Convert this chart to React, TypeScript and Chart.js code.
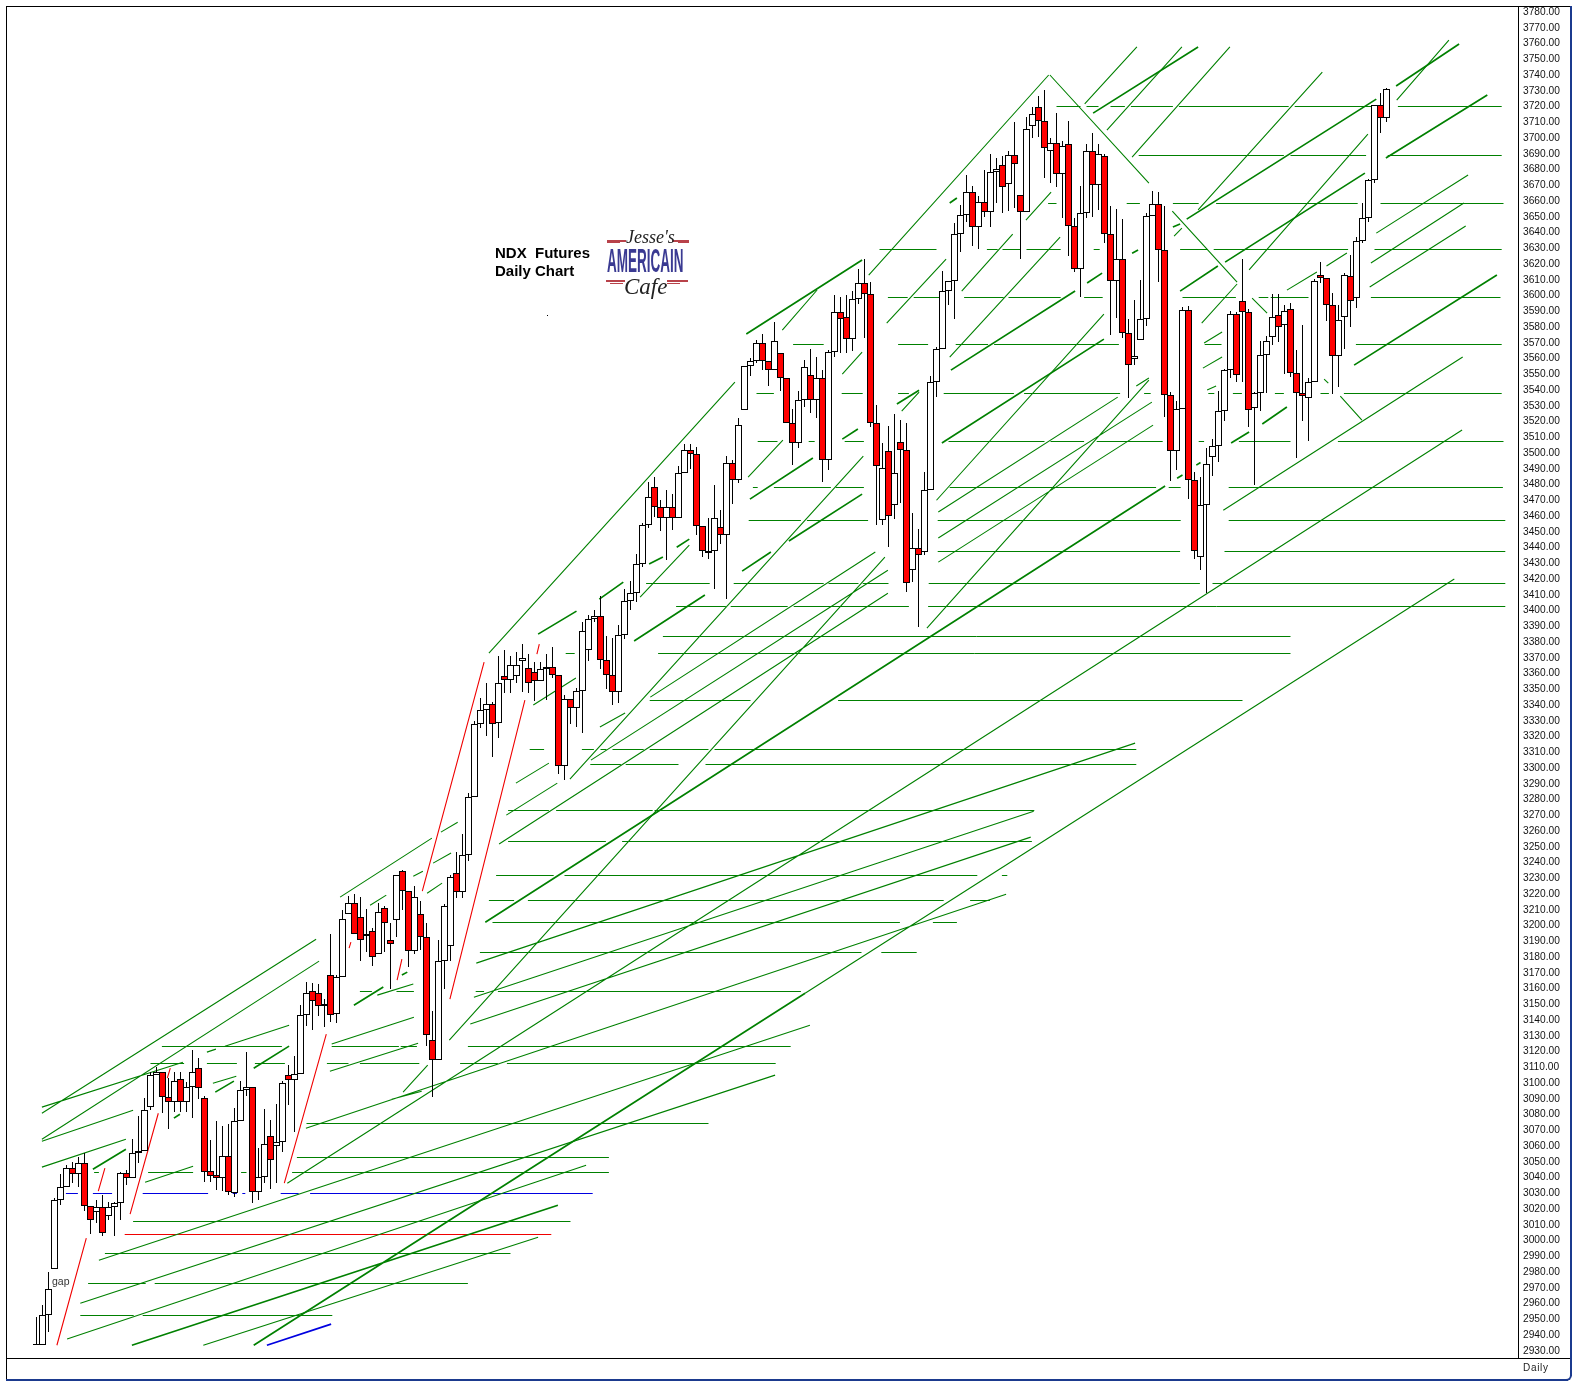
import React, { useEffect, useRef } from "react";
import { Chart, registerables } from "chart.js";

Chart.register(...registerables);

const opens = [
  2933.5, 2933.5, 2952.6, 2981.8, 3025.6, 3033.8, 3045.9, 3042.1, 3049.1, 3021.8,
  3018, 3021.2, 3015.4, 3021.2, 3023.7, 3042.7, 3039.6, 3055.5, 3056.7, 3084.7,
  3105, 3106.9, 3091, 3087.8, 3102.4, 3087.8, 3097.4, 3109.4, 3090.4, 3044,
  3041.5, 3039.6, 3053.5, 3030, 3075.7, 3095.4, 3097.4, 3030.7, 3040.2, 3066.2,
  3059.9, 3062.4, 3105, 3101.8, 3105.6, 3143, 3158.3, 3157, 3148.8, 3168.5,
  3143.7, 3167.2, 3207, 3214, 3205.7, 3193.2, 3196.2, 3181.6, 3210.8, 3191.1,
  3203.2, 3234.3, 3221.6, 3184.1, 3207.6, 3192.4, 3127, 3114.9, 3177.2, 3187.3,
  3233.1, 3221, 3244.5, 3281.9, 3327.7, 3336.6, 3340.4, 3328.3, 3358.2, 3355.6,
  3358.2, 3367.7, 3363.2, 3360.7, 3355, 3362.6, 3363.9, 3358.8, 3301, 3343.5,
  3337.8, 3348.8, 3374.9, 3394.5, 3396.4, 3368.5, 3359, 3348.2, 3384.4, 3406,
  3411, 3429.5, 3454.2, 3478.2, 3465.5, 3458.5, 3465.5, 3458.5, 3487, 3501.6,
  3499.1, 3453.4, 3436.6, 3437.5, 3452.8, 3447.7, 3493.4, 3482.6, 3527.1, 3555,
  3558.2, 3569.6, 3558.2, 3552.4, 3563.2, 3547.4, 3518.8, 3506.1, 3533.4, 3549.3,
  3533.4, 3547.4, 3495.3, 3563.9, 3589.3, 3586.1, 3572.3, 3597.7, 3607.9, 3600.9,
  3519, 3457.2, 3501, 3466.7, 3506.7, 3501.6, 3426, 3439.4, 3436.9, 3476.3,
  3544.8, 3566, 3602.8, 3609.2, 3639, 3650.9, 3665.5, 3643.3, 3659.1, 3652.8,
  3678.2, 3682.6, 3670.6, 3689, 3663.6, 3652.8, 3707.4, 3719.5, 3710.6, 3691.5,
  3696.6, 3676.9, 3696, 3643.9, 3616.6, 3652.1, 3691.5, 3669.9, 3688.3, 3638.8,
  3609, 3622.9, 3576, 3559.4, 3571.5, 3584.8, 3650.2, 3657.9, 3628.6, 3536.6,
  3501, 3527.7, 3590.6, 3482.6, 3433.7, 3466.7, 3497.2, 3504.2, 3526.4, 3552.4,
  3588, 3596.3, 3589.3, 3528.3, 3537.8, 3562, 3573.4, 3587.4, 3581, 3591.2,
  3550.6, 3537.8, 3534.7, 3544.8, 3612.8, 3610.9, 3593.7, 3561.3, 3586.1, 3612.2,
  3598.2, 3634.4, 3649, 3673.1, 3720.7, 3712.5,
];
const highs = [
  2951.3, 2958.9, 2979.9, 3026.9, 3042.1, 3047.8, 3049.7, 3052.9, 3055.5, 3021.8,
  3025.6, 3028.8, 3024.3, 3024.3, 3043.4, 3044.6, 3064.3, 3079, 3090.4, 3106.9,
  3110, 3106.9, 3103.1, 3106.9, 3106.9, 3100.5, 3120.9, 3115.8, 3091.6, 3063.7,
  3075.7, 3072.6, 3073.9, 3084, 3101.2, 3119.6, 3097.4, 3058.6, 3083.4, 3076.4,
  3086.6, 3101.2, 3111.3, 3117, 3149.4, 3164, 3163.4, 3162.8, 3153.2, 3194.5,
  3168.5, 3209.7, 3218.6, 3220.3, 3217.8, 3210.2, 3198.1, 3214, 3212.3, 3201.9,
  3231.8, 3235.2, 3221.6, 3225, 3215.5, 3201.7, 3145.8, 3191.1, 3213.4, 3231.8,
  3246.4, 3258, 3283.9, 3329.6, 3344.2, 3353.7, 3341.6, 3371, 3374.9, 3371,
  3373.4, 3378.7, 3372.7, 3367, 3367, 3372.3, 3376.6, 3358.8, 3346.3, 3343.5,
  3350.5, 3392.6, 3397, 3400.2, 3409.1, 3383.7, 3382.5, 3390.7, 3413.6, 3418.7,
  3435.8, 3455.5, 3481.5, 3484.5, 3470.1, 3476.5, 3473.9, 3491.7, 3505.5, 3505.5,
  3503.6, 3453.4, 3458.5, 3479.6, 3463.7, 3497.8, 3495.5, 3522.2, 3555, 3560.1,
  3571.7, 3575.5, 3558.2, 3582.9, 3563.2, 3547.4, 3527.9, 3539.1, 3558.8, 3565.8,
  3560.7, 3552.4, 3565.4, 3600.3, 3599, 3600.3, 3602.8, 3616.8, 3623.1, 3608.5,
  3530.4, 3506.1, 3517.1, 3524.5, 3520.9, 3518.8, 3461.6, 3451.5, 3487.7, 3548.8,
  3567.3, 3615.5, 3609.2, 3646, 3657.4, 3676.5, 3669.5, 3663.1, 3679.6, 3689.8,
  3687.1, 3688.5, 3691.9, 3710.1, 3663.6, 3713.1, 3719.5, 3726.6, 3730.4, 3699.8,
  3715.8, 3698, 3710.8, 3649, 3669.5, 3696.2, 3703, 3696.2, 3689.6, 3656.8,
  3654.9, 3648.3, 3585.2, 3597.1, 3609.8, 3652.1, 3666.1, 3665.7, 3656.8, 3538.9,
  3533.2, 3592.9, 3593.5, 3488.1, 3484.9, 3503.3, 3508.6, 3539.1, 3553.1, 3589.9,
  3589.7, 3623.1, 3591.2, 3539, 3570.9, 3574.2, 3600.9, 3600.9, 3593.9, 3595,
  3565.4, 3581.2, 3547.4, 3610.2, 3621, 3610.9, 3601.4, 3593.7, 3614, 3625.5,
  3637.3, 3658.5, 3674.1, 3720.7, 3728.4, 3731.5,
];
const lows = [
  2933.5, 2933.5, 2941.8, 2981.8, 3022.4, 3033.8, 3036.4, 3033.8, 3018.6, 3004,
  3011, 3002.7, 3012.9, 3002.7, 3012.9, 3035.1, 3039.6, 3049.1, 3056.7, 3082.7,
  3105, 3080.9, 3070.7, 3081.5, 3081.5, 3081.5, 3077.7, 3089.7, 3037, 3037,
  3032, 3031.3, 3028.8, 3027.5, 3075.7, 3091.6, 3023.7, 3025.6, 3036.4, 3032.6,
  3036.4, 3056.1, 3085.9, 3068.8, 3105.6, 3136.1, 3133.5, 3142.4, 3135.5, 3138.6,
  3138, 3167.2, 3207, 3194.9, 3177.6, 3183.3, 3174.4, 3181.6, 3183.3, 3159.4,
  3192.8, 3209.7, 3173.4, 3182, 3184.4, 3123.6, 3090.8, 3114.9, 3159.4, 3177.6,
  3217.2, 3217.2, 3241, 3281.9, 3325.1, 3320.4, 3307.1, 3318.8, 3347.7, 3347.7,
  3353.7, 3348.4, 3347.7, 3342.7, 3355, 3342.9, 3356.9, 3296, 3292.1, 3327.9,
  3325.8, 3322.1, 3367.9, 3392.6, 3362.8, 3350.1, 3340, 3341.2, 3381.9, 3400.2,
  3405.3, 3427.6, 3452.3, 3459.5, 3450.6, 3432, 3451, 3458.5, 3487, 3489.6,
  3447.7, 3433.7, 3433, 3413.4, 3442, 3407, 3467.4, 3481, 3527.1, 3548.8,
  3557.3, 3552.6, 3542.5, 3552.4, 3539.3, 3518.8, 3492.5, 3502.9, 3529, 3525.1,
  3522, 3481.7, 3489.2, 3561.1, 3563.2, 3563.4, 3564.7, 3594.6, 3573, 3516.5,
  3454.2, 3454.2, 3440.1, 3457.8, 3468, 3411.9, 3418.2, 3389.3, 3435, 3476.3,
  3535.7, 3566, 3593.9, 3585, 3627.8, 3646.8, 3631.6, 3629.3, 3649.6, 3643.6,
  3658.5, 3652.1, 3653.8, 3655.3, 3622.9, 3652.8, 3699.8, 3700.8, 3674.4, 3671.2,
  3668.7, 3649, 3625.2, 3615.1, 3599.2, 3649.4, 3649.6, 3654.3, 3633.1, 3574.9,
  3585.9, 3573.2, 3535.1, 3555.6, 3571.5, 3580.8, 3650.2, 3608.7, 3523, 3482,
  3489.2, 3527.7, 3470.9, 3432.4, 3425.9, 3410.9, 3485.3, 3494, 3520.5, 3547.4,
  3545.2, 3545.2, 3516.6, 3479.6, 3526.8, 3537.8, 3568.5, 3570.4, 3549.9, 3548,
  3496.6, 3520.5, 3507.8, 3544.8, 3607.7, 3584, 3537.6, 3541.6, 3565.8, 3579.8,
  3592.2, 3633.5, 3646.8, 3671.6, 3703.3, 3710.3,
];
const closes = [
  2934.2, 2952.6, 2969.1, 3025.6, 3033.8, 3045.9, 3042.1, 3049.1, 3021.8, 3012.9,
  3021.2, 3004.6, 3021.2, 3023.7, 3042.7, 3039.6, 3055.5, 3056.7, 3082.7, 3105,
  3106.9, 3091, 3087.8, 3101.2, 3087.8, 3097.4, 3106.9, 3096.7, 3043.4, 3040.8,
  3039.6, 3053.5, 3030.7, 3075.7, 3095.4, 3097.4, 3030.7, 3040.2, 3061.2, 3051,
  3062.4, 3099.9, 3101.8, 3105.6, 3143, 3157, 3152, 3148.8, 3150, 3143,
  3167.2, 3204, 3214, 3194.9, 3191.1, 3194.9, 3179.7, 3208.3, 3201.3, 3188,
  3231.8, 3221.6, 3184.1, 3217.8, 3192.4, 3130.2, 3114.9, 3177.2, 3212.3, 3230.5,
  3221, 3244.5, 3281.9, 3327.7, 3336.6, 3340.4, 3327.7, 3353.7, 3355.6, 3365.1,
  3365.1, 3369.6, 3353.7, 3355, 3362.6, 3363.9, 3358.8, 3301, 3343.5, 3337.8,
  3348.6, 3386.9, 3394.5, 3396.4, 3368.5, 3359, 3348.2, 3384.4, 3406, 3411,
  3429.5, 3454.2, 3472, 3465.5, 3458.5, 3465.5, 3458.5, 3487, 3501.6, 3499.1,
  3453.4, 3437.5, 3437.5, 3458.5, 3447.7, 3493.4, 3482.6, 3517.5, 3555, 3558.2,
  3569.6, 3558.2, 3552.4, 3570.9, 3547.4, 3518.8, 3506.1, 3533.4, 3554.4, 3533.4,
  3547.4, 3495.3, 3563.9, 3589.3, 3584.8, 3572.1, 3597.7, 3607.9, 3600.9, 3519,
  3491.5, 3490.2, 3459.8, 3487, 3501.6, 3417.2, 3439.4, 3435, 3476.3, 3544.8,
  3565.8, 3602.8, 3609.2, 3639, 3650.9, 3665.5, 3643.3, 3659.1, 3652.8, 3678.2,
  3680.1, 3668.7, 3689, 3683.3, 3652.8, 3705.5, 3715, 3710.6, 3693.4, 3696.6,
  3676.9, 3694.7, 3643.9, 3616.6, 3652.1, 3691.5, 3669.9, 3689.6, 3638.8, 3609,
  3622.9, 3576, 3555.6, 3561.3, 3584.8, 3650.2, 3657.9, 3628.6, 3536.6, 3501,
  3527.7, 3590.6, 3482.6, 3437.5, 3466.7, 3492.8, 3504.2, 3526.4, 3552.4, 3588,
  3549.3, 3589.3, 3527.1, 3537.8, 3562, 3570.9, 3586.1, 3579.8, 3589.9, 3550.6,
  3537.8, 3536, 3544.8, 3609, 3610.9, 3593.7, 3561.3, 3584.2, 3612.8, 3596.3,
  3634.4, 3649, 3673.1, 3720.7, 3712.5, 3730.9,
];

// [price, from bar, to bar, from bar, to bar, ...]
const greenLevels: number[][] = [
  [3719.7, 170, 174, 175, 177, 179, 181.4, 182.4, 189.4, 190.4, 208.7, 209.7, 222.7, 226.9, 244.2],
  [3689, 183.7, 207.9, 209, 221.6, 225.2, 244.2],
  [3658.7, 168.6, 170, 181.7, 183.9, 189.4, 193.7, 196.6, 220.2, 224, 244.5],
  [3629, 140.5, 150, 158.4, 160.2, 161, 164, 165, 170.7, 176.2, 177.2, 190.6, 195.2, 196.2, 218.6, 223, 244.2],
  [3599, 141.9, 145.2, 146.2, 151, 154.6, 161.2, 162, 170.7, 174.6, 177.7, 191, 199.9, 203.7, 205.3, 205.7, 212, 222.4, 244],
  [3569, 126.1, 131.2, 143.6, 148.6, 153.2, 158.6, 159.6, 180.4, 194.7, 197.5, 219.9, 244.2],
  [3538, 120, 122.9, 134.2, 137.7, 143.6, 145.4, 151.2, 162.9, 164.6, 180.6, 184.6, 185.7, 195.3, 196.3, 199.4, 200.9, 206.4, 207.9, 214, 215.4, 217.9, 244.2],
  [3507, 120.2, 123.5, 128.7, 129.7, 134.7, 137.9, 152, 168, 169, 174.6, 176.7, 187.7, 193.7, 194.6, 200.4, 209, 216.9, 244.5],
  [3478, 119.4, 120.2, 122.9, 132.4, 133.2, 137.9, 152.2, 186.6, 188.7, 190.7, 198.7, 244.4],
  [3457.4, 118.7, 127.4, 128.4, 138.6, 150.2, 190.7, 198.7, 244.8],
  [3437.7, 150.2, 190.6, 198, 244.8],
  [3417.4, 101.6, 112.2, 116.2, 131.2, 132, 137, 137.7, 142, 148.7, 193.9, 196, 244.8],
  [3402.8, 106.6, 114.9, 115.7, 125.2, 126.2, 145.4, 148.6, 244.8],
  [3383.7, 104.4, 209],
  [3373, 88.2, 89.7, 103.6, 209],
  [3343, 102.2, 119, 133.6, 201],
  [3312, 82.2, 84.6, 90.9, 92.9, 94, 95, 96, 101.2, 102.2, 112, 113, 183.3],
  [3302.5, 92.3, 97.4, 98.2, 107, 111.5, 183.3],
  [3273, 78.6, 85.4, 86.6, 102.7, 103, 166.3],
  [3253.5, 78.6, 94.9, 97.6, 165.9],
  [3232, 76.6, 86.2, 88, 156.8, 160.9, 161.8],
  [3216, 75.4, 79.6, 81.9, 151.2, 155.6, 158.9],
  [3202, 76, 143.9, 149.4, 153.4],
  [3183, 73.9, 137.5, 140.8, 146.7],
  [3158, 53.9, 55.9, 60, 62.9, 73.2, 74.6, 76.9, 127.4],
  [3123, 20.9, 40.9, 49.2, 60.4, 60.7, 63.4, 71.9, 125.7],
  [3112.5, 19, 24.6, 28.4, 33.4, 36.4, 41.4, 48.4, 52, 53.9, 63.8, 70.6, 76.9, 78.4, 123.2],
  [3074, 45, 112],
  [3053, 43.4, 95.4],
  [3043, 9.6, 10.4, 18.6, 26.1, 34.1, 35, 42.6, 95.4],
  [3012, 16.1, 89],
  [2992, 11.4, 79],
  [2973, 8.6, 18.2, 19.7, 71.9],
  [2952.5, 7.3, 16.2, 17.7, 49.3],
];
const blueLevel = [3030, 4.9, 6.9, 9.4, 12.6, 17.7, 28.6, 32.7, 33.4, 34.3, 34.8, 40.7, 43.7, 45.6, 92.7];
const redLevel = [3004, 14.7, 85.8];

// [from bar, from price, to bar, to price]
const thinLines: number[][] = [
  [0.9, 3084.7, 24.4, 3113.2], [0.9, 3080.8, 46.6, 3191.3], [0.9, 3064.3, 47.1, 3177.4],
  [0.9, 3063, 16.1, 3082.7], [0.9, 3046.6, 14.9, 3064.3], [18.1, 3037, 26.1, 3047.2],
  [29.4, 3099.9, 33.3, 3104.3], [31.4, 3123.4, 42.1, 3136.7], [28.4, 3119.6, 29.9, 3121.5],
  [10.4, 2987.5, 128.9, 3136.7], [7.3, 2960.2, 123.1, 3105], [5.1, 2937.4, 91.6, 3047.8],
  [27.8, 2933.5, 83.6, 3002.1], [41.8, 3036.4, 237.6, 3514.6], [128.1, 3157, 236.3, 3420],
  [50.6, 3218, 65.9, 3255.5], [55.6, 3212.9, 58.3, 3219.3], [67.4, 3259.3, 70.2, 3265.6],
  [66.1, 3239.6, 69.1, 3246], [65.1, 3220.5, 67.6, 3226.9], [62.8, 3231.3, 64.4, 3234.5],
  [73.3, 3176.1, 183.1, 3315.8], [72.9, 3154.5, 166.2, 3272.6], [72.3, 3137.4, 165.7, 3256.1],
  [44.9, 3071.3, 161.6, 3219.9], [48.9, 3107.5, 63.6, 3125.3], [49.2, 3124.7, 62.9, 3141.8],
  [56.8, 3155.8, 62.8, 3162.8], [59.2, 3089.7, 64.2, 3094.8], [61.1, 3094.2, 65.2, 3111.3],
  [68.8, 3127.2, 141.4, 3433.9], [88.9, 3292.9, 137.8, 3498], [75.4, 3373, 116.4, 3545],
  [77.1, 3251.7, 141.9, 3411], [92.4, 3305, 141.9, 3425.6], [102.3, 3345, 139.8, 3437.1],
  [78.3, 3270.1, 86.8, 3290.4], [79.9, 3290.4, 85.4, 3303.1], [82.8, 3340, 89.9, 3357.1],
  [93.9, 3326, 98.1, 3334.9], [100.6, 3408.5, 108.8, 3441.5], [118.6, 3484.7, 124.4, 3508.2],
  [134.3, 3550.1, 137.6, 3564.1], [124.3, 3578, 130.1, 3603.5], [141.7, 3582.5, 151.6, 3623.1],
  [138.7, 3613, 168.7, 3740], [144.2, 3526.6, 147.1, 3538.7], [148.4, 3388.8, 185.4, 3546.3],
  [150, 3470, 177.9, 3588.2], [152.2, 3560.9, 170.6, 3637.1], [154.2, 3602.8, 162.7, 3639],
  [164.9, 3647.9, 169.1, 3665.7], [174.7, 3721.6, 183.4, 3757.8], [178.4, 3705, 190.9, 3757.8],
  [182.6, 3687.9, 198.9, 3757.8], [193.6, 3654.3, 214.3, 3741.9], [189.6, 3637.7, 190.9, 3642.8],
  [194.2, 3582.5, 200.1, 3607.3], [202.1, 3616.2, 221.9, 3702.5], [226.7, 3724.1, 235.4, 3762.2],
  [150.3, 3462.5, 180.2, 3535.5], [150.3, 3446, 185.9, 3532.3], [150.3, 3430.7, 186.1, 3517.7],
  [183.3, 3542.5, 185.4, 3547.6], [194.6, 3569.8, 197.6, 3576.8], [194.4, 3553.9, 197.6, 3560.9],
  [197.8, 3463.7, 237.7, 3560.9], [223.3, 3639.6, 238.6, 3676.5], [222.4, 3620.6, 237.9, 3658.7],
  [222.2, 3605.4, 238.2, 3644.1], [215, 3618.7, 218.4, 3627], [208.4, 3603.4, 213.4, 3614.9],
  [195.1, 3540, 196.6, 3542.5], [168.9, 3740, 185.4, 3671.4], [189.3, 3653.6, 200.1, 3608.5],
  [202.6, 3598.4, 205.1, 3588.8], [217.3, 3536.1, 220.9, 3520.9], [214.6, 3546.9, 215.3, 3544.4],
];
const thickLines: number[][] = [
  [15.9, 2933.5, 86.9, 3022.4], [36.2, 2933.5, 128.1, 3157], [9.4, 3045.3, 14.9, 3058],
  [36.2, 3109.4, 42.1, 3123.4], [29.8, 3094.2, 32.9, 3101.2], [52.9, 3149.4, 57.8, 3160.9],
  [83.6, 3385, 90, 3399.6], [93.8, 3407.2, 97.8, 3418], [99.6, 3380.6, 111.4, 3409.8],
  [102.1, 3429.5, 104.4, 3433.9], [106.7, 3440.2, 108.8, 3445.3], [118.3, 3575.5, 137.6, 3622.5],
  [117.6, 3425, 122.4, 3437.1], [118.9, 3470.7, 129.4, 3496.8], [125.4, 3444.1, 137.6, 3473.9],
  [134.3, 3508.8, 136.9, 3515.2], [143.4, 3531.1, 147.1, 3539.9], [150.9, 3506.3, 177.9, 3572.3],
  [152.4, 3552.6, 173.1, 3602.8], [176.1, 3715.8, 193.6, 3757.8], [191.7, 3648.5, 223.3, 3724.7],
  [190.6, 3602.8, 196.9, 3618.7], [198.1, 3621.2, 221.4, 3677.7], [175.1, 3607.9, 177.6, 3614.2],
  [224.9, 3687.3, 241.8, 3727.3], [226.6, 3733, 237.1, 3759.7], [219.6, 3555.8, 243.4, 3613],
  [204.3, 3518.4, 208.4, 3529.2], [199.1, 3506.3, 202.1, 3513.3], [74.8, 3202.1, 188.1, 3479],
  [189.4, 3643.5, 190.6, 3645.4], [182.6, 3626.9, 183.6, 3628.9], [190.1, 3484, 191, 3486],
  [193.3, 3492.3, 194, 3494], [22.9, 3077.7, 23.9, 3080.2], [60.9, 3168.5, 61.8, 3170.4],
  [152.2, 3658.7, 153.4, 3661.9],
];
const redLines: number[][] = [
  [3.4, 2933.5, 8.3, 3001.5], [10.3, 3031.3, 11.4, 3045.9], [15.6, 3016.7, 20.3, 3080.8],
  [21.8, 3103.1, 22.3, 3109.4], [41.3, 3036.4, 48.3, 3131], [64.3, 3221.8, 74.6, 3367.2],
  [68.9, 3153.2, 81.4, 3343.1], [83.4, 3372.3, 83.8, 3378.7], [52.1, 3185.6, 52.4, 3189.4],
  [60.1, 3165.3, 60.9, 3178.6],
];
const blueLines: number[][] = [[38.4, 2933.5, 49.1, 2946.9]];

const segPoints = (lines: number[][]) =>
  lines.flatMap(([a, b, c, d]) => [{ x: a, y: b }, { x: c, y: d }, { x: c, y: null }]);
const levelPoints = (levels: number[][]) =>
  levels.flatMap(([p, ...spans]) => {
    const out: { x: number; y: number | null }[] = [];
    for (let k = 0; k < spans.length; k += 2) {
      out.push({ x: spans[k], y: p }, { x: spans[k + 1], y: p }, { x: spans[k + 1], y: null });
    }
    return out;
  });

const GREEN = "#008000";

const snapPlugin = {
  id: "snap",
  afterDatasetsUpdate(chart: any) {
    chart.data.datasets.forEach((ds: any, idx: number) => {
      const meta = chart.getDatasetMeta(idx);
      if (ds.type === "bar") {
        meta.data.forEach((el: any) => {
          el.y = Math.round(el.y);
          el.base = Math.round(el.base);
          if (el.y === el.base && ds.label !== "wick") el.base += 1;
        });
      } else if (ds.label.startsWith("level")) {
        meta.data.forEach((el: any) => {
          if (Number.isFinite(el.y)) el.y = Math.floor(el.y) + 0.5;
        });
      }
    });
  },
};

function abs(left: number, top: number, width: number, height: number, background: string, extra: any = {}) {
  return { position: "absolute", left, top, width, height, background, ...extra } as React.CSSProperties;
}

export default function App() {
  const ref = useRef<HTMLCanvasElement | null>(null);
  useEffect(() => {
    const idx = opens.map((_, i) => i);
    const up = idx.filter((i) => closes[i] >= opens[i]);
    const down = idx.filter((i) => closes[i] < opens[i]);
    const line = (label: string, data: any[], color: string, width: number, order: number) => ({
      type: "line" as const,
      label,
      data,
      borderColor: color,
      borderWidth: width,
      pointRadius: 0,
      pointHoverRadius: 0,
      tension: 0,
      spanGaps: false,
      fill: false,
      order,
    });
    const chart = new Chart(ref.current!, {
      type: "bar",
      data: {
        datasets: [
          line("levels green", levelPoints(greenLevels), GREEN, 1, 9),
          line("level blue", levelPoints([blueLevel]), "#0000e0", 1, 9),
          line("level red", levelPoints([redLevel]), "#f00000", 1, 9),
          line("thin", segPoints(thinLines), GREEN, 1.1, 8),
          line("thick", segPoints(thickLines), GREEN, 1.7, 7),
          line("red", segPoints(redLines), "#f00000", 1.1, 7),
          line("blue", segPoints(blueLines), "#0000e0", 1.8, 7),
          {
            type: "bar" as const,
            label: "wick",
            data: idx.map((i) => ({ x: i, y: [lows[i], highs[i]] })),
            backgroundColor: "#000000",
            barThickness: 1,
            grouped: false,
            inflateAmount: 0,
            borderWidth: 0,
            order: 3,
          },
          {
            type: "bar" as const,
            label: "up",
            data: up.map((i) => ({ x: i, y: [opens[i], closes[i]] })),
            backgroundColor: "#ffffff",
            borderColor: "#000000",
            borderWidth: 1,
            borderSkipped: false,
            barThickness: 7,
            grouped: false,
            inflateAmount: 0,
            order: 2,
          },
          {
            type: "bar" as const,
            label: "down",
            data: down.map((i) => ({ x: i, y: [opens[i], closes[i]] })),
            backgroundColor: "#ff0000",
            borderColor: "#000000",
            borderWidth: 1,
            borderSkipped: false,
            barThickness: 7,
            grouped: false,
            inflateAmount: 0,
            order: 1,
          },
        ] as any,
      },
      options: {
        responsive: false,
        animation: false,
        events: [],
        layout: { padding: { left: 6, right: 0, top: 6, bottom: 33 } },
        plugins: { legend: { display: false }, tooltip: { enabled: false }, title: { display: false } },
        scales: {
          x: {
            type: "linear",
            offset: false,
            min: -5.0833,
            max: 247.0833,
            display: false,
            grid: { display: false },
          },
          y: {
            type: "linear",
            position: "right",
            min: 2925.4,
            max: 3783.81,
            grid: { display: false, drawTicks: false },
            border: { display: false },
            afterFit(scale: any) {
              scale.width = 59;
              scale.paddingTop = 0;
              scale.paddingBottom = 0;
            },
            afterBuildTicks(scale: any) {
              scale.ticks = scale.ticks.filter((t: any) => t.value % 10 === 0);
            },
            ticks: {
              stepSize: 10,
              includeBounds: false,
              autoSkip: false,
              maxRotation: 0,
              padding: 4,
              color: "#111111",
              font: { family: '"Liberation Sans", Arial, sans-serif', size: 10.2 },
              callback: (v: any) => Number(v).toFixed(2),
            },
          },
        } as any,
      },
      plugins: [snapPlugin],
    });
    return () => chart.destroy();
  }, []);

  const navy = "#1b3a8e";
  const titleFont = { fontFamily: '"Liberation Sans", Arial, sans-serif', fontWeight: 700, fontSize: 15, color: "#000", lineHeight: "18px", whiteSpace: "pre" };
  const script = { fontFamily: '"Liberation Serif", serif', fontStyle: "italic", color: "#222", whiteSpace: "pre", lineHeight: 1 };
  return (
    <div style={{ position: "absolute", left: 0, top: 0, width: 1578, height: 1391, background: "#fff", overflow: "hidden" }}>
      <canvas ref={ref} width={1578} height={1391} style={{ position: "absolute", left: 0, top: 0, width: 1578, height: 1391 }} />
      <div style={abs(6, 6, 1566, 1, "#000")} />
      <div style={abs(6, 6, 1, 1374, "#000")} />
      <div style={abs(1518, 6, 1, 1352, "#000")} />
      <div style={abs(6, 1358, 1566, 1, "#000")} />
      <div style={abs(1570, 6, 2, 1370, navy)} />
      <div style={abs(6, 1379, 1562, 2, navy)} />
      <div style={{ position: "absolute", left: 1564, top: 1373, width: 6, height: 6, borderRight: `2px solid ${navy}`, borderBottom: `2px solid ${navy}`, borderBottomRightRadius: 6 }} />

      <div style={{ ...abs(495, 244, 120, 18, "transparent"), ...titleFont } as any}>NDX  Futures</div>
      <div style={{ ...abs(495, 262, 120, 18, "transparent"), ...titleFont } as any}>Daily Chart</div>

      <div style={abs(607, 240, 19, 1.5, "#b8424a")} />
      <div style={abs(607, 242, 13, 1, "#b8424a")} />
      <div style={abs(672, 240, 17, 1.5, "#b8424a")} />
      <div style={abs(678, 242, 11, 1, "#b8424a")} />
      <div style={abs(606, 280, 19, 1.5, "#b8424a")} />
      <div style={abs(610, 283, 13, 1, "#b8424a")} />
      <div style={abs(667, 280, 21, 1.5, "#b8424a")} />
      <div style={abs(667, 283, 13, 1, "#b8424a")} />
      <div style={{ ...abs(626, 228, 50, 18, "transparent"), ...script, fontSize: 18 } as any}>Jesse's</div>
      <div
        style={{
          position: "absolute",
          left: 607,
          top: 243,
          fontFamily: '"Liberation Sans", Arial, sans-serif',
          fontWeight: 700,
          fontSize: 27,
          lineHeight: "30px",
          color: "#3a3a92",
          transform: "scale(0.5, 1.2)",
          transformOrigin: "left top",
          whiteSpace: "pre",
        }}
      >
        AMERICAIN
      </div>
      <div style={{ ...abs(624, 275, 50, 24, "transparent"), ...script, fontSize: 23 } as any}>Cafe</div>

      <div style={{ position: "absolute", left: 52, top: 1275, fontFamily: '"Liberation Sans", Arial, sans-serif', fontSize: 10.5, lineHeight: "12px", color: "#333" }}>gap</div>
      <div style={{ position: "absolute", left: 1523, top: 1362, fontFamily: '"Liberation Sans", Arial, sans-serif', fontSize: 10, lineHeight: "12px", letterSpacing: 0.7, color: "#222" }}>Daily</div>
      <div style={abs(547, 315, 1, 1, "#000")} />
    </div>
  );
}
